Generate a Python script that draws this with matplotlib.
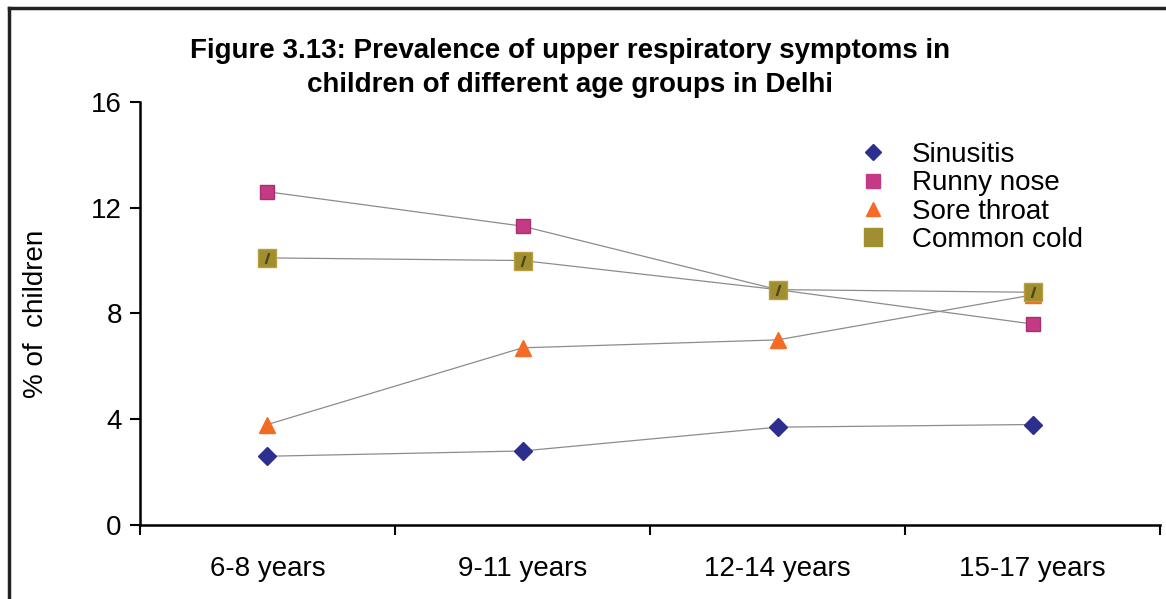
import matplotlib.pyplot as plt
from matplotlib.lines import Line2D

plt.rcParams['font.family'] = ['Liberation Sans', 'DejaVu Sans']

# Data
age_groups = ['6-8 years', '9-11 years', '12-14 years', '15-17 years']
sinusitis = [2.6, 2.8, 3.7, 3.8]
runny_nose = [12.6, 11.3, 8.9, 7.6]
sore_throat = [3.8, 6.7, 7.0, 8.7]
common_cold = [10.1, 10.0, 8.9, 8.8]

fig = plt.figure(figsize=(11.66, 5.99), dpi=100)
ax = fig.add_axes([0.120, 0.1235, 0.875, 0.7065])

x = range(len(age_groups))
line_kw = dict(color='#8c8c8c', linewidth=0.9)

ax.plot(x, sinusitis, marker='D', markersize=9, markerfacecolor='#2d2f8e',
        markeredgecolor='#2d2f8e', label='Sinusitis', **line_kw)
ax.plot(x, runny_nose, marker='s', markersize=10, markerfacecolor='#c53a84',
        markeredgecolor='#a8306f', label='Runny nose', **line_kw)
ax.plot(x, sore_throat, marker='^', markersize=11, markerfacecolor='#f36b24',
        markeredgecolor='#f36b24', label='Sore throat', **line_kw)
ax.plot(x, common_cold, marker='s', markersize=13, markerfacecolor='#a08f30',
        markeredgecolor='#b8a040', label='Common cold', **line_kw)
# small dark stroke inside the common cold markers
ax.plot(x, common_cold, linestyle='none', marker='$/$', markersize=7,
        color='#4f4518')

ax.set_xlim(-0.5, len(age_groups) - 0.5)
ax.set_ylim(0, 16)
ax.set_yticks([0, 4, 8, 12, 16])
ax.set_xticks([i - 0.5 for i in range(len(age_groups) + 1)], minor=False)
ax.set_xticklabels([])
ax.set_xticks(list(x), minor=True)
ax.set_xticklabels(age_groups, minor=True)
ax.tick_params(axis='x', which='minor', length=0, pad=22, labelsize=20)
ax.tick_params(axis='x', which='major', length=7, width=1.5, direction='out')
ax.tick_params(axis='y', length=7, width=1.5, direction='out', labelsize=20, pad=6)

for side in ['top', 'right']:
    ax.spines[side].set_visible(False)
for side in ['left', 'bottom']:
    ax.spines[side].set_linewidth(1.8)

ax.set_ylabel('% of  children', fontsize=20, labelpad=30)

handles = [
    Line2D([], [], linestyle='none', marker='D', markersize=8, color='#2d2f8e'),
    Line2D([], [], linestyle='none', marker='s', markersize=10, color='#c53a84'),
    Line2D([], [], linestyle='none', marker='^', markersize=10, color='#f36b24'),
    Line2D([], [], linestyle='none', marker='s', markersize=13, color='#a08f30'),
]
ax.legend(handles, ['Sinusitis', 'Runny nose', 'Sore throat', 'Common cold'],
          loc='upper left', bbox_to_anchor=(0.694, 0.931), frameon=False,
          fontsize=20, handlelength=1.0, handletextpad=0.9, labelspacing=0.08,
          borderaxespad=0)

fig.text(0.489, 0.886, 'Figure 3.13: Prevalence of upper respiratory symptoms in\n'
         'children of different age groups in Delhi',
         ha='center', va='center', fontsize=20, fontweight='bold',
         linespacing=1.4)

# outer frame (left and top edges visible in the reference)
fig.add_artist(Line2D([0.0075, 0.0075], [0.0, 0.987], color='#222222',
                      linewidth=2.5, transform=fig.transFigure))
fig.add_artist(Line2D([0.0075, 1.0], [0.987, 0.987], color='#222222',
                      linewidth=2.5, transform=fig.transFigure))

fig.savefig('out.png', dpi=100)
